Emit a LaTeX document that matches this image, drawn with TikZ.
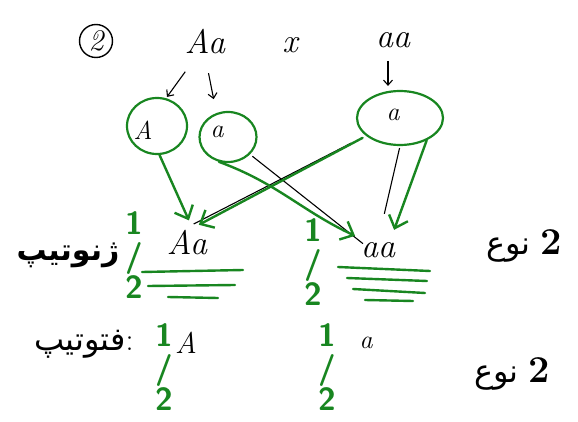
\documentclass[tikz,border=0pt]{standalone}
\usepackage{fontspec}
\usepackage{xcolor}
\newfontfamily\arabicfont[Script=Arabic]{DejaVu Sans}
\TeXXeTstate=1
\usetikzlibrary{shapes,arrows,arrows.meta,positioning,calc}
\definecolor{pen}{RGB}{24,134,32}

\begin{document}
\begin{tikzpicture}[x=1pt,y=-1pt,
    hand/.style={font=\fontsize{34}{36}\selectfont\itshape,inner sep=1pt},
    small/.style={font=\fontsize{26}{28}\selectfont\itshape,inner sep=1pt},
    gamete/.style={ellipse,draw=pen,line width=2.2pt,inner sep=0pt},
    penline/.style={draw=pen,line width=2.4pt,line cap=round},
    penarrow/.style={penline,-{Straight Barb[length=11pt,width=20pt,line width=2.4pt]}},
    pencil/.style={draw=black,line width=1.1pt},
    pencilarrow/.style={pencil,-{Straight Barb[length=5pt,width=9pt]}},
    half/.style={text=pen,align=center,font=\sffamily\bfseries\fontsize{32}{32}\selectfont,inner sep=0pt},
    persian/.style={font=\fontsize{32}{34}\selectfont,inner sep=1pt},
    count/.style={persian,font=\bfseries\fontsize{38}{40}\selectfont}]
    \useasboundingbox (0,0) rectangle (578,422);

    % parents
    \node[draw,circle,line width=1.4pt,minimum width=29pt,minimum height=33pt,inner sep=0pt,font=\fontsize{30}{32}\selectfont\itshape] (cross2) at (96,41) {2};
    \node[hand] (pAa) at (205,42) {Aa};
    \node[hand] (times) at (290,45) {x};
    \node[hand] (paa) at (393,40) {aa};

    % gametes
    \node[gamete,minimum width=60pt,minimum height=56pt] (gA) at (157,126) {};
    \node[small] (lA) at (143,130) {A};
    \node[gamete,minimum width=57pt,minimum height=50pt] (ga) at (228,137) {};
    \node[small] (la) at (217,132) {a};
    \node[gamete,minimum width=86pt,minimum height=54pt] (gb) at (400,118) {};
    \node[small] (lb) at (393,115) {a};

    \draw[pencilarrow,shorten <=20pt,shorten >=0pt] ([xshift=-8pt]pAa.south) -- ([xshift=10pt]gA.north);
    \draw[pencilarrow,shorten <=18pt,shorten >=12pt] ([xshift=0pt]pAa.south) -- ([xshift=-12pt]ga.north);
    \draw[pencilarrow,shorten <=12pt,shorten >=4pt] ([xshift=-5pt]paa.south) -- ([xshift=-12pt]gb.north);

    % offspring
    \node[hand] (kAa) at (187,243) {Aa};
    \node[hand] (kaa) at (378,250) {aa};

    % pencil lines
    \draw[pencil,shorten <=3pt,shorten >=-4pt] (ga) -- (kaa.north west);
    \draw[pencil,shorten <=16pt,shorten >=12pt] ([xshift=-12pt,yshift=-4pt]gb) -- ([xshift=-4pt]kAa.north);
    \draw[pencil,shorten <=2pt,shorten >=28pt] (gb.south) -- (kaa.north);

    % pen arrows
    \draw[penarrow,shorten >=10pt] (gA.-85) -- ([xshift=6pt]kAa.north);
    \draw[penarrow,shorten >=3pt] (ga.-110) to[out=-20,in=155] ([xshift=-2pt,yshift=4pt]kaa.north west);
    \draw[penarrow,shorten <=4pt,shorten >=10pt] ([xshift=-6pt,yshift=-14pt]gb) -- ([xshift=3pt]kAa.north);
    \draw[penarrow,shorten >=12pt] (gb.-40) -- ([xshift=12pt]kaa.north);

    % underlines
    \draw[penline] (142,272) -- (243,270);
    \draw[penline] (148,286) -- (235,285);
    \draw[penline] (168,297) -- (218,298);
    \draw[penline] (338,267) -- (430,271);
    \draw[penline] (347,278) -- (427,281);
    \draw[penline] (353,289) -- (425,293);
    \draw[penline] (365,300) -- (413,301);

    % fractions
    \node[half] (hAa) at (134,255) {1\\/\\2};
    \node[half] (haa) at (313,262) {1\\/\\2};
    \node[half] (hA) at (164,367) {1\\/\\2};
    \node[half] (ha) at (327,367) {1\\/\\2};

    % labels
    \node[persian,font=\fontsize{30}{32}\selectfont] (geno) at (68,255) {\arabicfont\bfseries\beginR ژنوتیپ\endR};
    \node[count] (genon) at (524,246) {\hbox{\arabicfont\mdseries\fontsize{32}{34}\selectfont\beginR نوع\endR}\hspace{0.25em}2};
    \node[persian] (pheno) at (84,344) {\hbox{\arabicfont\beginR فتوتیپ\endR}:};
    \node[small,font=\fontsize{30}{32}\selectfont\itshape] (fA) at (186,343) {A};
    \node[small] (fa) at (366,343) {a};
    \node[count] (phenon) at (512,374) {\hbox{\arabicfont\mdseries\fontsize{32}{34}\selectfont\beginR نوع\endR}\hspace{0.25em}2};
\end{tikzpicture}
\end{document}
